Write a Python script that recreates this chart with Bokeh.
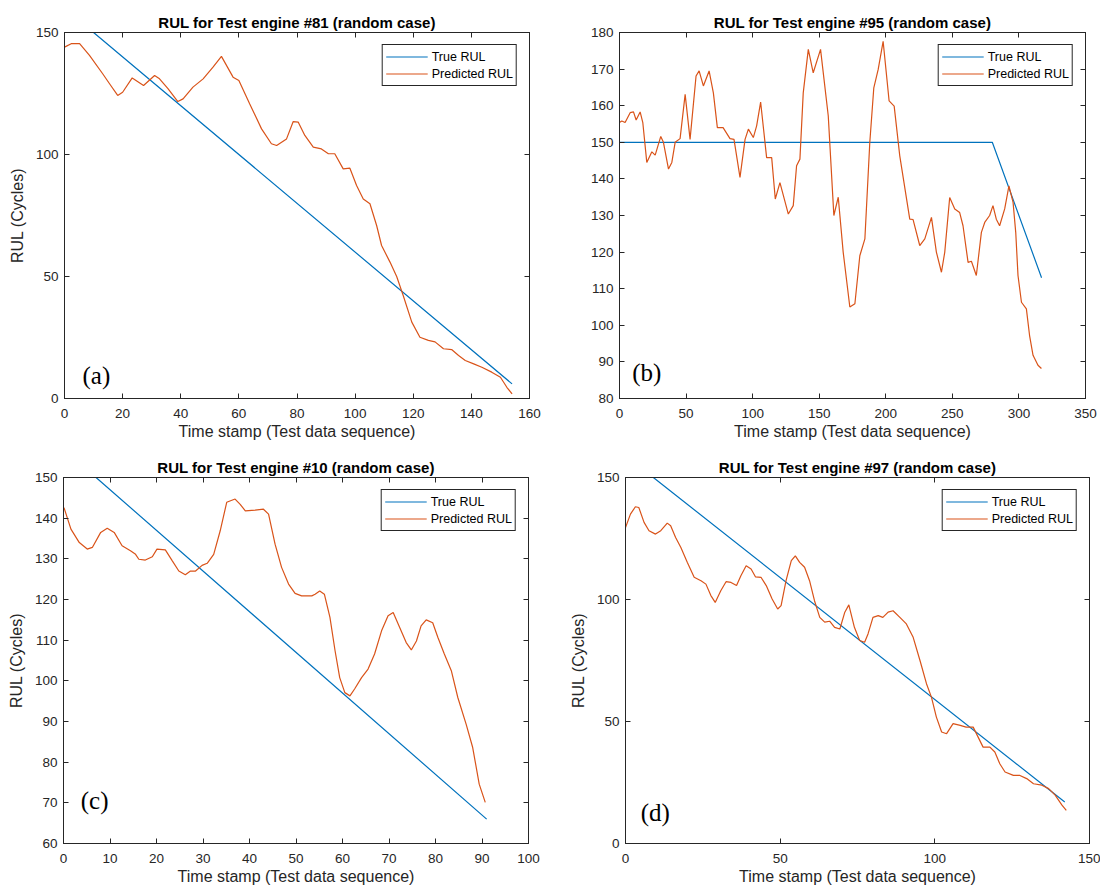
from bokeh.plotting import figure
from bokeh.models import Range1d, LinearAxis, FixedTicker, Legend, LegendItem, Label, CustomJSTickFormatter
from bokeh.layouts import column, row
from bokeh.embed import file_html
from bokeh.resources import INLINE

# ---------------- data ----------------
# (a) engine #81
a_true_x = [0, 10, 154]
a_true_y = [150, 150, 6]
a_pred_x = [0, 2.3, 5.2, 8.6, 13.2, 15.5, 18.3, 20, 23.3, 27.2, 31, 32.7, 35.6, 39, 40.8, 44.2,
            47.7, 51.1, 54, 58, 60, 63.7, 67.8, 71.2, 73, 76.4, 78.7, 80.4, 82.7, 85.6, 88.4,
            90.8, 93, 95.9, 98.2, 100.5, 102.8, 105.1, 107.4, 109.1, 112, 114.3, 116.6, 119.5,
            122.3, 125.2, 127.5, 130.4, 133.3, 135.6, 137.9, 140.8, 143.6, 147, 150, 152.2, 154]
a_pred_y = [144, 145.4, 145.4, 140.6, 133, 129, 124.2, 125.5, 131.4, 128.3, 132.4, 131, 127, 121.7,
            122.8, 127.6, 131, 135.8, 140.2, 131.7, 130.3, 120.8, 110.5, 104.4, 103.7, 106.4, 113.5,
            113.3, 107.8, 103, 102.3, 100.3, 100.3, 94.1, 94.4, 87.3, 81.8, 79.8, 70.9, 62.7, 55.9,
            50, 42, 31.3, 25.1, 23.8, 23.2, 20.4, 20, 17.6, 15.6, 14.2, 12.8, 10.8, 8.7, 4.6, 1.9]

# (b) engine #95
b_true_x = [0, 280, 317]
b_true_y = [150, 150, 113]
b_pred_x = [0, 1.7, 4.2, 8, 10.5, 12.5, 15.5, 17.5, 20.5, 24.3, 26.8, 31, 33, 36.8, 39.3, 41.8,
            45.5, 49.3, 53, 57.5, 59.8, 63, 67.3, 70.5, 73.5, 77.8, 83, 86, 90.5, 94.3, 96.8,
            100.5, 103, 106, 110.5, 114.3, 117, 120.5, 126.8, 130.5, 133, 135.5, 138, 141.8,
            145.5, 151, 156.8, 161, 164.3, 168, 173, 176.8, 180.5, 184.3, 188, 191, 194.3, 198,
            202.5, 206.3, 210.5, 218, 220.5, 225.5, 229.3, 234.3, 238, 241.8, 244.3, 248, 251.8,
            255.5, 258, 261.8, 264.3, 268, 271.8, 274.3, 278, 280.5, 283, 285.5, 289.3, 292.5,
            295.6, 297.6, 299.3, 301.9, 305.6, 308, 310.6, 314.3, 316.9]
b_pred_y = [155.4, 155.8, 155.4, 158.1, 158.3, 156.1, 158.3, 155.4, 144.5, 147.4, 146.5, 151.6, 150,
            142.7, 144.5, 150, 151, 163.1, 150.8, 168.1, 169.5, 165.4, 169.5, 163.5, 154, 154, 151,
            150.8, 140.4, 150.8, 153.6, 151.3, 154.5, 161, 145.8, 145.8, 134.5, 139, 130.4, 132.7,
            143.6, 145.4, 163.5, 175.4, 169, 175.4, 157.2, 130, 135, 120, 105, 105.9, 119, 123.6,
            150, 164.9, 169.9, 177.6, 161.3, 159.9, 146.3, 129, 128.9, 121.8, 123.6, 129.5, 120,
            114.5, 120, 134.9, 131.8, 130.8, 127.2, 117.2, 117.5, 113.6, 125.4, 128.1, 130, 132.7,
            129, 127.2, 131.8, 138.1, 133.6, 125.4, 113.6, 106.3, 104.5, 97.2, 91.8, 89.1, 88.2]

# (c) engine #10
c_true_x = [0, 7, 91]
c_true_y = [150, 150, 66]
c_pred_x = [0.1, 1.6, 3.4, 5.1, 6.2, 8, 9.4, 10.9, 12.6, 14.4, 15.5, 16.2, 17.6, 19.1, 20.1, 21.9,
            23.4, 24.8, 26.2, 27.3, 28.4, 29.8, 30.9, 32.3, 33.7, 35.1, 36.9, 38, 39.1, 41.2, 43,
            44.1, 45.5, 46.9, 48.4, 49.8, 51.2, 53.4, 54.1, 55.1, 56.1, 57.3, 58.4, 59.4, 60.5,
            61.6, 62.6, 64.1, 65.5, 66.9, 68.4, 69.8, 70.9, 72.3, 73.7, 74.8, 75.9, 76.9, 78,
            79.4, 80.5, 81.9, 83.4, 84.8, 86.6, 88, 89.4, 90.7]
c_pred_y = [142.6, 137.3, 134, 132.4, 132.8, 136.5, 137.5, 136.5, 133.2, 132, 131.1, 129.9, 129.7,
            130.5, 132.4, 132.2, 129.5, 127, 126.1, 127, 127, 128.4, 128.9, 131.1, 136.9, 143.9,
            144.7, 143.4, 141.8, 142, 142.2, 141, 133.6, 127.9, 123.8, 121.5, 120.9, 120.9, 121.3,
            122.1, 121.3, 115.6, 107.4, 100.8, 97.1, 96.3, 98, 100.8, 102.9, 106.6, 112.3, 116,
            116.8, 113.1, 109.4, 107.6, 109.8, 113.5, 115, 114.3, 110.7, 106.6, 102.5, 95.9, 89.3,
            83.6, 74.6, 70.1]

# (d) engine #97
d_true_x = [0, 9, 142]
d_true_y = [150, 150, 17]
d_pred_x = [0, 1.6, 3.2, 4.3, 6, 7.6, 9.7, 11.4, 13.5, 14.6, 16.2, 17.9, 20, 22.2, 24.4, 26, 27.6,
            29, 30.8, 32.5, 34.1, 35.9, 37.3, 39, 40.6, 42, 43.8, 45.5, 47.4, 49.2, 50.3, 51.9,
            53.6, 54.9, 56.3, 57.9, 59.5, 61.1, 62.8, 64.4, 66, 67.6, 69.3, 70.9, 72.2, 74, 75.7,
            77.3, 78.4, 80, 81.7, 83.2, 84.9, 86.5, 88.7, 90.8, 93, 95.2, 97.3, 98.9, 100.5, 102.2,
            103.8, 105.9, 108.2, 110.1, 112.4, 114, 115.6, 117.8, 119.4, 121, 122.7, 125.4, 127.5,
            129.7, 131.9, 134.6, 136.8, 138.9, 141.1, 142.5]
d_pred_y = [129.5, 135, 138, 137.7, 131.6, 128.2, 126.8, 128.2, 131.3, 130.2, 125.4, 121.3, 115.2,
            109.1, 107.7, 106.3, 101.6, 98.8, 103.6, 107.3, 107, 105.7, 109.7, 113.8, 112.5, 109.3,
            109.1, 105.7, 100.2, 96.1, 97.5, 107.7, 115.9, 117.9, 115.2, 113.2, 107.7, 99.5, 92.7,
            90.7, 91.1, 88.6, 87.9, 94.8, 97.8, 88.6, 83.2, 82.5, 85.9, 92.7, 93.4, 92.7, 94.8,
            95.4, 92.7, 90, 84.5, 75, 65.5, 60, 51.8, 45.7, 45, 49.1, 48.4, 47.7, 47.7, 43.6, 39.5,
            39.5, 37.5, 32.7, 29.3, 27.9, 27.9, 26.6, 24.5, 23.9, 22.5, 19.8, 15.7, 13.6]

titles = ["RUL for Test engine #81 (random case)", "RUL for Test engine #95 (random case)",
          "RUL for Test engine #10 (random case)", "RUL for Test engine #97 (random case)"]
tags = ["(a)", "(b)", "(c)", "(d)"]
legend_labels = ["True RUL", "Predicted RUL"]
x_label = "Time stamp (Test data sequence)"
y_label = "RUL (Cycles)"

a_xticks = [0, 20, 40, 60, 80, 100, 120, 140, 160]
a_yticks = [0, 50, 100, 150]
b_xticks = [0, 50, 100, 150, 200, 250, 300, 350]
b_yticks = [80, 90, 100, 110, 120, 130, 140, 150, 160, 170, 180]
c_xticks = [0, 10, 20, 30, 40, 50, 60, 70, 80, 90, 100]
c_yticks = [60, 70, 80, 90, 100, 110, 120, 130, 140, 150]
d_xticks = [0, 50, 100, 150]
d_yticks = [0, 50, 100, 150]

# ---------------- style ----------------
FONT = "Liberation Sans"
SERIF = "Liberation Serif"
AX = "#262626"
BLUE = "#0072BD"
ORANGE = "#D95319"


def style_axis(ax, ticks):
    ax.ticker = FixedTicker(ticks=ticks)
    ax.major_tick_in = 5
    ax.major_tick_out = 0
    ax.minor_tick_line_color = None
    ax.axis_line_color = AX
    ax.major_tick_line_color = AX
    ax.major_label_text_color = AX
    ax.major_label_text_font = FONT
    ax.major_label_text_font_size = "13.5px"
    ax.axis_label_text_font = FONT
    ax.axis_label_text_font_size = "16px"
    ax.axis_label_text_font_style = "normal"
    ax.axis_label_text_color = AX


def mirror_axis(ticks):
    return LinearAxis(ticker=FixedTicker(ticks=ticks),
                      formatter=CustomJSTickFormatter(code="return ''"),
                      major_label_text_font_size="0px", major_label_standoff=0,
                      major_tick_in=5, major_tick_out=0, minor_tick_line_color=None,
                      axis_line_color=AX, major_tick_line_color=AX)


def panel(title, tx, ty, px, py, xr, yr, xt, yt, tag, tag_xy, w, h, borders, ylab=True):
    bl, br, bt, bb = borders
    p = figure(width=w, height=h, output_backend="svg", toolbar_location=None,
               x_range=Range1d(*xr), y_range=Range1d(*yr),
               min_border_left=bl, min_border_right=br, min_border_top=bt, min_border_bottom=bb,
               background_fill_color="white", border_fill_color="white")
    p.title.text = title
    p.title.align = "center"
    p.title.text_font = FONT
    p.title.text_font_size = "15px"
    p.title.text_font_style = "bold"
    p.title.text_color = "#000000"
    p.title.standoff = 3
    p.xgrid.visible = False
    p.ygrid.visible = False
    p.outline_line_color = AX
    p.outline_line_alpha = 1
    p.outline_line_width = 1

    style_axis(p.xaxis[0], xt)
    style_axis(p.yaxis[0], yt)
    p.xaxis[0].axis_label = x_label
    p.xaxis[0].major_label_standoff = 10
    p.xaxis[0].axis_label_standoff = 2
    p.yaxis[0].major_label_standoff = 6
    p.yaxis[0].axis_label_standoff = 7
    if ylab:
        p.yaxis[0].axis_label = y_label

    p.add_layout(mirror_axis(yt), "right")
    p.add_layout(mirror_axis(xt), "above")

    r_true = p.line(tx, ty, line_color=BLUE, line_width=1.2)
    r_pred = p.line(px, py, line_color=ORANGE, line_width=1.2)

    leg = Legend(items=[LegendItem(label=legend_labels[0], renderers=[r_true]),
                        LegendItem(label=legend_labels[1], renderers=[r_pred])],
                 location="top_right", margin=12, padding=3, spacing=0,
                 glyph_width=42, glyph_height=17, label_height=17, label_standoff=4,
                 label_text_font=FONT, label_text_font_size="12.5px", label_text_color="#000000",
                 border_line_color=AX, border_line_width=1, border_line_alpha=1,
                 background_fill_color="white", background_fill_alpha=1)
    p.add_layout(leg, "center")

    p.add_layout(Label(x=tag_xy[0], y=tag_xy[1], text=tag, text_font=SERIF,
                       text_font_size="25px", text_baseline="middle", text_align="left",
                       text_color="#000000"))
    return p


# page has no margin: figures start at (0, 0)
W1, W2 = 562, 538
H1, H2 = 445, 444

pa = panel(titles[0], a_true_x, a_true_y, a_pred_x, a_pred_y, (0, 160), (0, 150),
           a_xticks, a_yticks, tags[0], (6.2, 9.4), W1, H1, (64, 33, 32, 47))
pb = panel(titles[1], b_true_x, b_true_y, b_pred_x, b_pred_y, (0, 350), (80, 180),
           b_xticks, b_yticks, tags[1], (9.5, 87), W2, H1, (57, 15, 31, 47), ylab=False)
pc = panel(titles[2], c_true_x, c_true_y, c_pred_x, c_pred_y, (0, 100), (60, 150),
           c_xticks, c_yticks, tags[2], (3.7, 70.5), W1, H2, (63, 34, 32, 46))
pd = panel(titles[3], d_true_x, d_true_y, d_pred_x, d_pred_y, (0, 150), (0, 150),
           d_xticks, d_yticks, tags[3], (4.9, 12.8), W2, H2, (63, 11, 32, 46))

layout = column(row(pa, pb, spacing=0), row(pc, pd, spacing=0), spacing=0)

open("out.html", "w").write(file_html(layout, INLINE))
